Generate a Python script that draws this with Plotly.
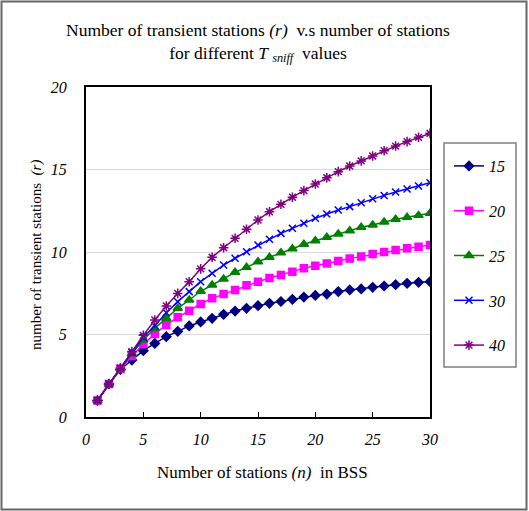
import plotly.graph_objects as go

n = list(range(1, 31))
series_names = ["15", "20", "25", "30", "40"]
r15 = [1, 2, 2.88, 3.45, 4.02, 4.46, 4.87, 5.19, 5.52, 5.76, 5.98, 6.22, 6.42, 6.59, 6.75,
       6.89, 7.0, 7.13, 7.27, 7.37, 7.45, 7.6, 7.7, 7.76, 7.86, 7.94, 8.02, 8.1, 8.16, 8.2]
r20 = [1, 2, 2.92, 3.7, 4.42, 5.03, 5.58, 6.04, 6.44, 6.85, 7.19, 7.45, 7.7, 7.98, 8.2,
       8.42, 8.6, 8.81, 9.01, 9.17, 9.31, 9.45, 9.6, 9.72, 9.88, 10.0, 10.12, 10.22, 10.32, 10.42]
r25 = [1, 2, 2.94, 3.83, 4.67, 5.37, 5.98, 6.59, 7.09, 7.62, 8.0, 8.36, 8.77, 9.07, 9.41,
       9.68, 9.96, 10.2, 10.47, 10.68, 10.89, 11.09, 11.29, 11.5, 11.64, 11.82, 11.98, 12.1, 12.22, 12.35]
r30 = [1, 2, 2.95, 3.9, 4.83, 5.53, 6.32, 6.99, 7.6, 8.2, 8.71, 9.21, 9.62, 10.02, 10.42,
       10.77, 11.13, 11.44, 11.74, 12.04, 12.3, 12.55, 12.75, 12.99, 13.23, 13.43, 13.64, 13.82, 14.0, 14.2]
r40 = [1, 2, 2.96, 3.96, 4.95, 5.88, 6.73, 7.49, 8.2, 8.98, 9.68, 10.26, 10.83, 11.38, 11.94,
       12.44, 12.89, 13.32, 13.72, 14.12, 14.5, 14.87, 15.21, 15.52, 15.82, 16.14, 16.42, 16.69, 16.95, 17.19]
x_ticks = [0, 5, 10, 15, 20, 25, 30]
y_ticks = [0, 5, 10, 15, 20]

series = [r15, r20, r25, r30, r40]
colors = ["#000080", "#FF00FF", "#008000", "#0000FF", "#800080"]
symbols = ["diamond", "square", "triangle-up", "x-thin-open", "asterisk-open"]
sizes = [7, 7, 8, 7, 8]

FONT = "Liberation Serif, Times New Roman, serif"
fig = go.Figure()
for name, ys, c, s, sz in zip(series_names, series, colors, symbols, sizes):
    fig.add_trace(go.Scatter(
        x=n, y=ys, name=name, mode="lines+markers", legendgroup=name,
        line=dict(color=c, width=1.5),
        marker=dict(symbol=s, size=sz, color=c, line=dict(color=c, width=1.5)),
    ))

W, H = 529, 511
L, R, T, B = 86, 99, 87, 94
pw, ph = W - L - R, H - T - B

def px(xp):
    return (xp - L) / pw

def py(yp):
    return (H - B - yp) / ph

fig.update_layout(
    width=W, height=H,
    margin=dict(l=L, r=R, t=T, b=B),
    paper_bgcolor="white", plot_bgcolor="white",
    font=dict(family=FONT, size=16, color="black"),
    showlegend=True,
    title=dict(
        text="Number of transient stations <i>(r)</i>  v.s number of stations<br>for different <i>T <sub>sniff</sub></i>  values",
        font=dict(family=FONT, size=17.5, color="black"),
        x=0.5, xref="paper", xanchor="center",
        y=1 - 36 / H, yref="container", yanchor="top",
    ),
    xaxis=dict(
        range=[0, 30], tickvals=x_ticks, ticks="inside", ticklen=5, tickcolor="black",
        showline=True, linecolor="black", linewidth=2, mirror=True,
        showgrid=False, zeroline=False,
        tickfont=dict(family=FONT, size=16, style="italic"),
        ticklabelstandoff=7,
    ),
    yaxis=dict(
        range=[0, 20], tickvals=y_ticks, ticks="",
        showline=True, linecolor="black", linewidth=2, mirror=True,
        showgrid=True, gridcolor="#d9d9d9", gridwidth=1, zeroline=False,
        tickfont=dict(family=FONT, size=16, style="italic"),
        ticklabelstandoff=14,
    ),
    legend=dict(
        x=px(449), y=py(149), xanchor="left", yanchor="top",
        bgcolor="rgba(0,0,0,0)", borderwidth=0,
        font=dict(family=FONT, size=16, style="italic"),
        tracegroupgap=21, itemwidth=30,
    ),
    shapes=[
        dict(type="rect", xref="paper", yref="paper",
             x0=px(444), x1=px(516), y0=py(367), y1=py(143),
             line=dict(color="#808080", width=1.5), fillcolor="rgba(0,0,0,0)"),
        dict(type="rect", xref="paper", yref="paper",
             x0=px(1.5), x1=px(526.5), y0=py(509.5), y1=py(1.5),
             line=dict(color="#666666", width=2), fillcolor="rgba(0,0,0,0)"),
    ],
    annotations=[
        dict(text="Number of stations <i>(n)</i>  in BSS", xref="paper", yref="paper",
             x=px(262), y=py(472), xanchor="center", yanchor="middle", showarrow=False,
             font=dict(family=FONT, size=17)),
        dict(text="number of transient stations  <i>(r)</i>", xref="paper", yref="paper",
             x=px(37), y=py(255), xanchor="center", yanchor="middle", showarrow=False,
             textangle=-90, font=dict(family=FONT, size=15)),
    ],
)

fig.write_html("out.html")
